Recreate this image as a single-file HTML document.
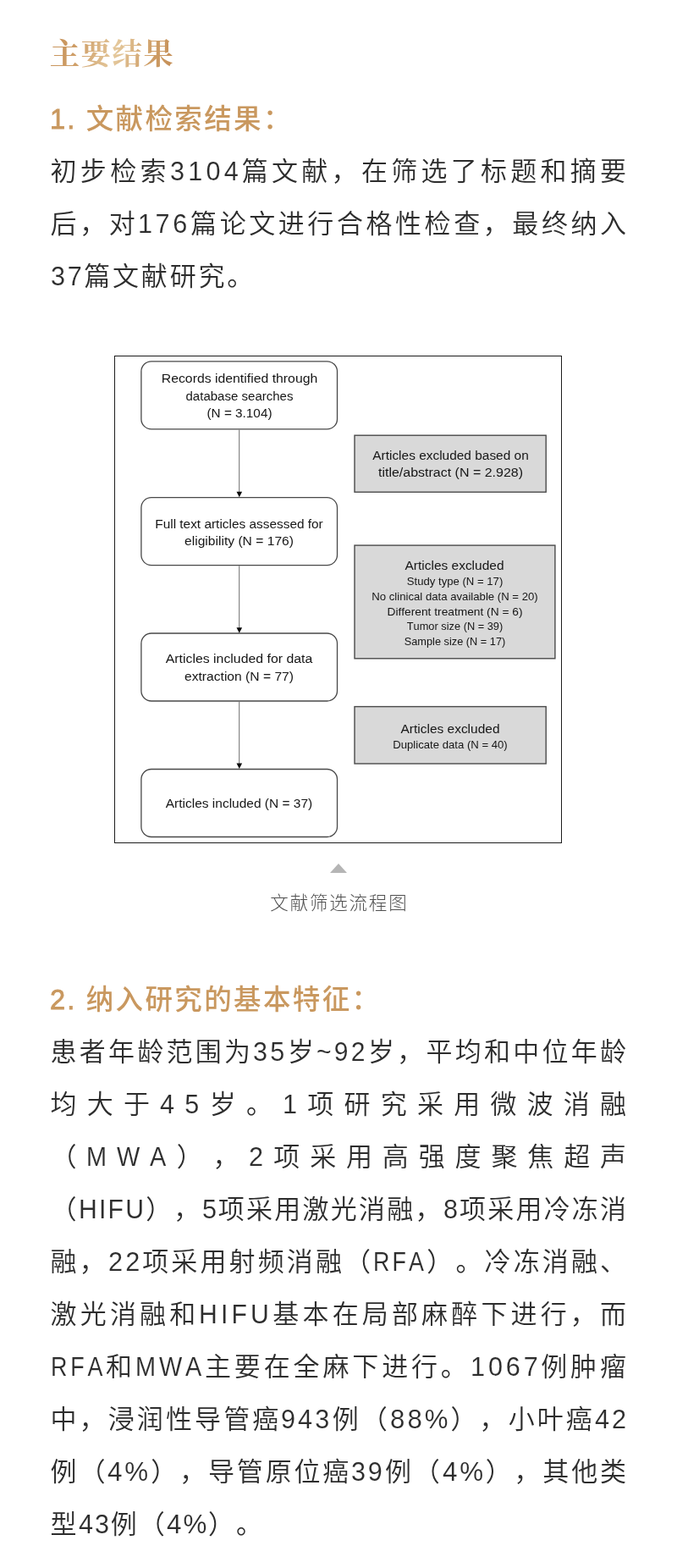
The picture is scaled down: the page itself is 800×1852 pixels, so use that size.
<!DOCTYPE html>
<html lang="zh-CN">
<head>
<meta charset="utf-8">
<title>主要结果</title>
<style>
html,body{margin:0;padding:0;background:#fff;}
body{width:800px;height:1852px;position:relative;overflow:hidden;font-family:"Liberation Sans","Noto Sans CJK SC",sans-serif;text-spacing-trim:space-all;font-kerning:none;}
.l{position:absolute;left:59.6px;height:60px;line-height:60px;white-space:nowrap;font-size:31px;font-weight:350;color:#2d2d2d;}
.h1{position:absolute;left:58.7px;top:33.5px;height:60px;line-height:60px;white-space:nowrap;font-family:"Liberation Serif","Noto Serif CJK SC",serif;font-weight:700;font-size:35.5px;letter-spacing:1.35px;color:#cda26f;background:linear-gradient(105deg,#c58f56 0%,#cf9f68 25%,#e4c89c 52%,#cf9f68 78%,#c28a52 100%);-webkit-background-clip:text;background-clip:text;-webkit-text-fill-color:transparent;}
.h2{position:absolute;left:59px;height:60px;line-height:60px;white-space:nowrap;font-size:32.5px;font-weight:500;color:#c9985f;letter-spacing:2.38px;}
.cap{position:absolute;left:0;width:800px;top:1047px;height:40px;line-height:40px;text-align:center;font-size:21.5px;font-weight:300;color:#505050;letter-spacing:1.8px;text-indent:1.8px;white-space:nowrap;}
.l span{display:inline-block;transform-origin:0 40.74px;-webkit-text-stroke:0.12px #fff;}
.h2 span{-webkit-text-stroke:0.8px #c9985f;}
.tri{position:absolute;left:390px;top:1020px;width:0;height:0;border-left:10px solid transparent;border-right:10px solid transparent;border-bottom:11px solid #b5b5b5;}
svg{position:absolute;left:0;top:0;}
#p{position:absolute;left:0;top:0;width:800px;height:1852px;will-change:transform;}
</style>
</head>
<body>
<div id="p">
<div class="h1">主要结果</div>
<div class="h2" id="s1" style="top:111px"><span style="letter-spacing:2.18px">1. </span>文献检索结果：</div>
<div class="l" id="a0" style="top:173.1px;letter-spacing:4.27px">初步检索<span style="width:85.14px;letter-spacing:4.32px;transform:scale(0.987,1.024)">3104</span>篇文献，在筛选了标题和摘要</div>
<div class="l" id="a1" style="top:235.1px;letter-spacing:3.57px">后，对<span style="width:61.76px;letter-spacing:3.61px;transform:scale(0.987,1.024)">176</span>篇论文进行合格性检查，最终纳入</div>
<div class="l" id="a2" style="top:297.1px;letter-spacing:2.8px"><span style="width:39.65px;letter-spacing:2.84px;transform:scale(0.987,1.024)">37</span>篇文献研究。</div>
<svg width="800" height="1852" viewBox="0 0 800 1852" font-family="'Liberation Sans',sans-serif" fill="#222" text-anchor="middle">
<rect x="135.5" y="420.5" width="528" height="575" fill="#fff" stroke="#1c1c1c" stroke-width="1"/>
<g fill="#fff" stroke="#484848" stroke-width="1.3">
<rect x="166.9" y="426.8" width="231.6" height="80.1" rx="12" ry="12"/>
<rect x="166.9" y="587.6" width="231.6" height="80" rx="12" ry="12"/>
<rect x="166.9" y="748" width="231.6" height="80" rx="12" ry="12"/>
<rect x="166.9" y="908.5" width="231.6" height="80" rx="12" ry="12"/>
</g>
<g fill="#d9d9d9" stroke="#4a4a4a" stroke-width="1.4">
<rect x="419" y="514.2" width="226.2" height="67"/>
<rect x="419" y="644.1" width="236.9" height="133.7"/>
<rect x="419" y="834.6" width="226.2" height="67.4"/>
</g>
<g stroke="#7a7a7a" stroke-width="1.1" fill="none">
<path d="M282.7 507.5V581.5M282.7 668.2V742M282.7 828.6V902.4"/>
</g>
<g fill="#0a0a0a">
<path d="M279.5 580.8h6.600l-3.300 6.500zM279.500 741.200h6.600l-3.300 6.500zM279.500 901.600h6.600l-3.300 6.500z"/>
</g>
<g font-size="15.2" fill="#161616">
<text x="283" y="452.2" textLength="184.500" lengthAdjust="spacingAndGlyphs">Records identified through</text>
<text x="283" y="472.6" textLength="127" lengthAdjust="spacingAndGlyphs">database searches</text>
<text x="283" y="493" textLength="77" lengthAdjust="spacingAndGlyphs">(N = 3.104)</text>
<text x="532.500" y="542.6" textLength="184.500" lengthAdjust="spacingAndGlyphs">Articles excluded based on</text>
<text x="532.500" y="563" textLength="171" lengthAdjust="spacingAndGlyphs">title/abstract (N = 2.928)</text>
<text x="282.500" y="623.500" textLength="198.500" lengthAdjust="spacingAndGlyphs">Full text articles assessed for</text>
<text x="282.500" y="644" textLength="129" lengthAdjust="spacingAndGlyphs">eligibility (N = 176)</text>
<text x="537" y="673" textLength="117" lengthAdjust="spacingAndGlyphs">Articles excluded</text>
<text x="282.500" y="783" textLength="173.500" lengthAdjust="spacingAndGlyphs">Articles included for data</text>
<text x="282.500" y="804" textLength="129" lengthAdjust="spacingAndGlyphs">extraction (N = 77)</text>
<text x="532" y="865.500" textLength="117" lengthAdjust="spacingAndGlyphs">Articles excluded</text>
<text x="282.500" y="954.2" textLength="173.500" lengthAdjust="spacingAndGlyphs">Articles included (N = 37)</text>
</g>
<g font-size="13.1" fill="#161616">
<text x="537.500" y="691.1" textLength="113.500" lengthAdjust="spacingAndGlyphs">Study type (N = 17)</text>
<text x="537.500" y="709" textLength="196.500" lengthAdjust="spacingAndGlyphs">No clinical data available (N = 20)</text>
<text x="537.500" y="726.500" textLength="160" lengthAdjust="spacingAndGlyphs">Different treatment (N = 6)</text>
<text x="537.500" y="744" textLength="113.500" lengthAdjust="spacingAndGlyphs">Tumor size (N = 39)</text>
<text x="537.500" y="761.500" textLength="119.500" lengthAdjust="spacingAndGlyphs">Sample size (N = 17)</text>
<text x="532" y="884" textLength="135.500" lengthAdjust="spacingAndGlyphs">Duplicate data (N = 40)</text>
</g>
</svg>
<div class="tri"></div>
<div class="cap">文献筛选流程图</div>
<div class="h2" id="s2" style="top:1151px"><span style="letter-spacing:2.18px">2. </span>纳入研究的基本特征：</div>
<div class="l" id="b0" style="top:1213.3px;letter-spacing:3.25px">患者年龄范围为<span style="width:40.55px;letter-spacing:3.29px;transform:scale(0.987,1.024)">35</span>岁<span style="width:60.82px;letter-spacing:3.35px;transform:scale(0.971,1.024)">~92</span>岁，平均和中位年龄</div>
<div class="l" id="b1" style="top:1275.3px;letter-spacing:12.21px">均大于<span style="width:58.46px;letter-spacing:12.37px;transform:scale(0.987,1.024)">45</span>岁。<span style="width:29.24px;letter-spacing:12.37px;transform:scale(0.987,1.024)">1</span>项研究采用微波消融</div>
<div class="l" id="b2" style="top:1337.3px;letter-spacing:11.86px">（<span style="width:106.2px;letter-spacing:12.72px;transform:scale(0.932,1.024)">MWA</span>），<span style="width:28.89px;letter-spacing:12.01px;transform:scale(0.987,1.024)">2</span>项采用高强度聚焦超声</div>
<div class="l" id="b3" style="top:1399.3px;letter-spacing:2.23px">（<span style="width:79.31px;letter-spacing:2.29px;transform:scale(0.973,1.024)">HIFU</span>），<span style="width:19.26px;letter-spacing:2.25px;transform:scale(0.987,1.024)">5</span>项采用激光消融，<span style="width:19.26px;letter-spacing:2.25px;transform:scale(0.987,1.024)">8</span>项采用冷冻消</div>
<div class="l" id="b4" style="top:1461.3px;letter-spacing:3.13px">融，<span style="width:40.3px;letter-spacing:3.17px;transform:scale(0.987,1.024)">22</span>项采用射频消融（<span style="width:63.11px;letter-spacing:3.61px;transform:scale(0.867,1.024)">RFA</span>）。冷冻消融、</div>
<div class="l" id="b5" style="top:1523.3px;letter-spacing:4.15px">激光消融和<span style="width:87px;letter-spacing:4.26px;transform:scale(0.973,1.024)">HIFU</span>基本在局部麻醉下进行，而</div>
<div class="l" id="b6" style="top:1585.3px;letter-spacing:3.86px"><span style="width:65.32px;letter-spacing:4.46px;transform:scale(0.867,1.024)">RFA</span>和<span style="width:82.21px;letter-spacing:4.14px;transform:scale(0.932,1.024)">MWA</span>主要在全麻下进行。<span style="width:83.53px;letter-spacing:3.91px;transform:scale(0.987,1.024)">1067</span>例肿瘤</div>
<div class="l" id="b7" style="top:1647.3px;letter-spacing:3.09px">中，浸润性导管癌<span style="width:60.33px;letter-spacing:3.13px;transform:scale(0.987,1.024)">943</span>例（<span style="width:71.64px;letter-spacing:3.07px;transform:scale(1.005,1.024)">88%</span>），小叶癌<span style="width:40.22px;letter-spacing:3.13px;transform:scale(0.987,1.024)">42</span></div>
<div class="l" id="b8" style="top:1709.3px;letter-spacing:2.84px">例（<span style="width:51.04px;letter-spacing:2.81px;transform:scale(1.012,1.024)">4%</span>），导管原位癌<span style="width:39.73px;letter-spacing:2.88px;transform:scale(0.987,1.024)">39</span>例（<span style="width:51.04px;letter-spacing:2.81px;transform:scale(1.012,1.024)">4%</span>），其他类</div>
<div class="l" id="b9" style="top:1771.3px;letter-spacing:2px">型<span style="width:38.05px;letter-spacing:2.03px;transform:scale(0.987,1.024)">43</span>例（<span style="width:49.36px;letter-spacing:1.98px;transform:scale(1.012,1.024)">4%</span>）。</div>
</div>
</body>
</html>
